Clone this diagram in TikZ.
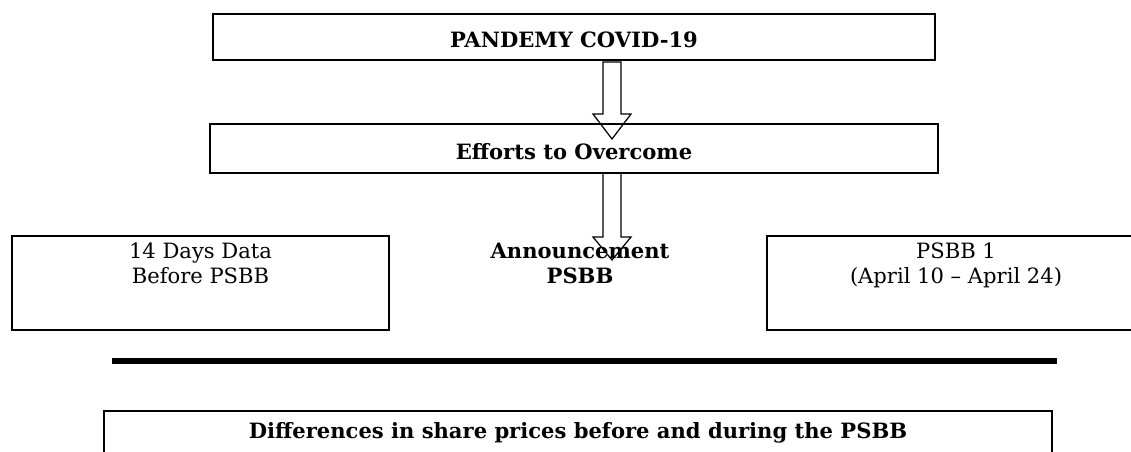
\documentclass[tikz,border=0pt]{standalone}
\usepackage{fontspec}
\setmainfont{DejaVu Serif}
\usepackage{tikz}
\usetikzlibrary{positioning}

\begin{document}
\begin{tikzpicture}[x=0.02cm, y=-0.02cm,
    box/.style={draw, line width=1pt, inner sep=0pt},
    title/.style={font=\fontsize{12}{14.3}\selectfont\bfseries, align=center,
      inner sep=0pt},
    plain/.style={font=\fontsize{12}{14.3}\selectfont, align=center,
      inner sep=0pt},
    hollow/.style={draw, line width=0.7pt, line join=miter}]
    \useasboundingbox (0, 0) rectangle (1131, 452);
    \clip (0, 0) rectangle (1131, 452);

    % pandemy
    \node[box, minimum width=14.44cm, minimum height=0.92cm](pandemy)
      at (574, 37){};
    \node[title](pandemytxt) at (574, 40){PANDEMY COVID-19};
    % efforts
    \node[box, minimum width=14.56cm, minimum height=0.98cm](efforts)
      at (574, 148.5){};
    \node[title](effortstxt) at (574, 152){Efforts to Overcome};

    % before, left
    \node[box, minimum width=7.54cm, minimum height=1.88cm](before)
      at (200.5, 283){};
    \node[plain, below=4pt of before.north](beforetxt)
      {14 Days Data\\Before PSBB};
    % psbb 1, right
    \node[box, minimum width=7.56cm, minimum height=1.88cm](psbb)
      at (956, 283){};
    \node[plain, below=4pt of psbb.north](psbbtxt)
      {PSBB 1\\(April 10 – April 24)};
    % announcement
    \node[title, anchor=north](announce) at (580, 243){Announcement\\PSBB};

    % hollow arrows
    \coordinate (arrowa) at (612, 62);
    \coordinate (arrowb) at (612, 173);
    \draw[hollow] (arrowa) ++(-9, 0) -- ++(0, 52) -- ++(-10, 0) -- ++(19, 25)
      -- ++(19, -25) -- ++(-10, 0) -- ++(0, -52) -- cycle;
    \draw[hollow] (arrowb) ++(-9, 0) -- ++(0, 64) -- ++(-10, 0) -- ++(19, 23)
      -- ++(19, -23) -- ++(-10, 0) -- ++(0, -64) -- cycle;

    % thick rule
    \coordinate (rulel) at (112, 361);
    \coordinate (ruler) at (1057, 361);
    \draw[line width=3.4pt] (rulel) -- (ruler);

    % differences
    \node[box, minimum width=18.96cm, minimum height=0.96cm](differ)
      at (578, 435){};
    \node[title](differtxt) at (578, 433)
      {Differences in share prices before and during the PSBB};
  \end{tikzpicture}
\end{document}
